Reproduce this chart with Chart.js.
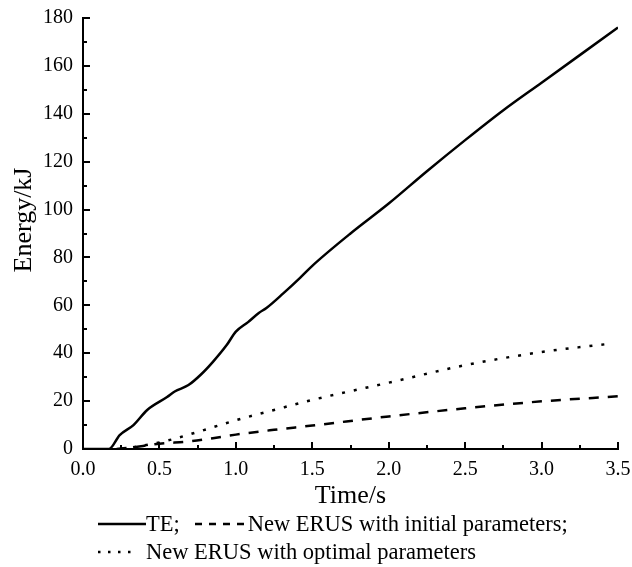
<!DOCTYPE html>
<html>
<head>
<meta charset="utf-8">
<script src="https://cdn.jsdelivr.net/npm/chart.js@4/dist/chart.umd.min.js"></script>
<style>
  html, body { margin: 0; padding: 0; background: #fff; }
  #wrap { position: relative; width: 632px; height: 567px; }
  #legend { position: absolute; left: 98px; top: 510px; font-family: "Liberation Serif", "Times New Roman", serif; font-size: 22.5px; color: #000; line-height: 28px; }
  #legend .row { white-space: nowrap; display: flex; align-items: center; height: 28px; }
  #legend svg { display: inline-block; }
</style>
</head>
<body>
<div id="wrap">
  <canvas id="c" width="632" height="567"></canvas>
  <div id="legend"></div>
</div>
<script>
/* Energy vs time — TE vs new ERUS */

const teTime   = [0, 0.17, 0.24, 0.33, 0.42, 0.55, 0.6, 0.69, 0.77, 0.85, 0.94, 1.0, 1.08, 1.15, 1.2, 1.31, 1.42, 1.5, 1.75, 2.0, 2.25, 2.5, 2.75, 3.0, 3.25, 3.5];
const teEnergy = [0, 0, 5.8, 10, 16.3, 21.7, 24, 26.7, 31, 36.4, 43.4, 49, 53, 56.8, 58.9, 65, 71.5, 76.5, 90, 102.5, 116, 129, 141.5, 153, 164.5, 176];

const initTime   = [0.22, 0.3, 0.5, 0.7, 0.85, 1.0, 1.25, 1.5, 2.0, 2.5, 3.0, 3.5];
const initEnergy = [0, 0.5, 2.2, 3.2, 4.5, 6, 8, 9.8, 13.6, 17, 19.9, 22];

const optTime   = [0.25, 0.4, 0.57, 0.79, 1.0, 1.25, 1.5, 2.0, 2.5, 3.0, 3.45];
const optEnergy = [0, 1.5, 3.8, 7.9, 12, 16.3, 20.5, 27.7, 35, 40.5, 44];

const seriesNames = ['TE;', 'New ERUS with initial parameters;', 'New ERUS with optimal parameters'];
const lineDashes  = [[], [10, 9], [3, 9]];

const FONT = '"Liberation Serif", "Times New Roman", serif';

const toPoints = (xs, ys) => xs.map((x, i) => ({ x, y: ys[i] }));

// inward major/minor tick marks + rotated y title, like the original plot
const axisDecor = {
  id: 'axisDecor',
  afterDraw(chart) {
    const { ctx, scales: { x, y } } = chart;
    ctx.save();
    ctx.strokeStyle = '#000';
    ctx.lineWidth = 2;
    ctx.beginPath();
    for (let v = 0; v <= 3.5001; v += 0.25) {
      const px = Math.round(x.getPixelForValue(v));
      const len = Math.abs(v / 0.5 - Math.round(v / 0.5)) < 1e-6 ? 7 : 4;
      ctx.moveTo(px, y.bottom);
      ctx.lineTo(px, y.bottom - len);
    }
    for (let v = 0; v <= 180; v += 10) {
      const py = Math.round(y.getPixelForValue(v));
      const len = v % 20 === 0 ? 7 : 4;
      ctx.moveTo(x.left, py);
      ctx.lineTo(x.left + len, py);
    }
    ctx.stroke();

    ctx.translate(24, 220);
    ctx.rotate(-Math.PI / 2);
    ctx.fillStyle = '#000';
    ctx.font = '26px ' + FONT;
    ctx.textAlign = 'center';
    ctx.textBaseline = 'middle';
    ctx.fillText('Energy/kJ', 0, 0);
    ctx.restore();
  }
};

new Chart(document.getElementById('c'), {
  type: 'line',
  data: {
    datasets: [
      { label: seriesNames[0], data: toPoints(teTime, teEnergy),     borderDash: lineDashes[0], borderWidth: 2.5 },
      { label: seriesNames[1], data: toPoints(initTime, initEnergy), borderDash: lineDashes[1], borderWidth: 2.5 },
      { label: seriesNames[2], data: toPoints(optTime, optEnergy),   borderDash: lineDashes[2], borderWidth: 2.5 },
    ].map(d => ({ ...d, borderColor: '#000', pointRadius: 0, cubicInterpolationMode: 'monotone', fill: false })),
  },
  options: {
    responsive: false,
    animation: false,
    layout: { padding: { top: 18, right: 14, left: 0, bottom: 0 } },
    plugins: { legend: { display: false }, tooltip: { enabled: false } },
    scales: {
      x: {
        type: 'linear', min: 0, max: 3.5,
        grid: { display: false, drawTicks: false },
        border: { display: true, color: '#000', width: 2 },
        ticks: { stepSize: 0.5, color: '#000', padding: 9, maxRotation: 0, font: { family: FONT, size: 20 }, callback: v => v.toFixed(1) },
        title: { display: true, text: 'Time/s', color: '#000', font: { family: FONT, size: 26 }, padding: { top: 0, bottom: 55 } },
        afterFit: s => { s.height = 118; s.paddingLeft = 0; s.paddingRight = 0; },
      },
      y: {
        min: 0, max: 180,
        grid: { display: false, drawTicks: false },
        border: { display: true, color: '#000', width: 2 },
        ticks: { stepSize: 20, color: '#000', padding: 10, font: { family: FONT, size: 20 } },
        afterFit: s => { s.width = 83; s.paddingTop = 0; s.paddingBottom = 0; },
      },
    },
  },
  plugins: [axisDecor],
});

// legend underneath, drawn as text with small line samples
function sample(dash, w) {
  const da = dash.length ? ` stroke-dasharray="${dash.join(' ')}"` : '';
  return `<svg width="${w}" height="10"><line x1="0" y1="5" x2="${w}" y2="5" stroke="#000" stroke-width="2.5"${da}/></svg>`;
}
document.getElementById('legend').innerHTML =
  `<div class="row">${sample(lineDashes[0], 48)}<span>${seriesNames[0]}</span>` +
  `<span style="width:15px"></span>${sample([7, 7], 50)}<span style="margin-left:3px">${seriesNames[1]}</span></div>` +
  `<div class="row">${sample([2.5, 7.5], 40)}<span style="margin-left:8px">${seriesNames[2]}</span></div>`;
</script>
</body>
</html>
